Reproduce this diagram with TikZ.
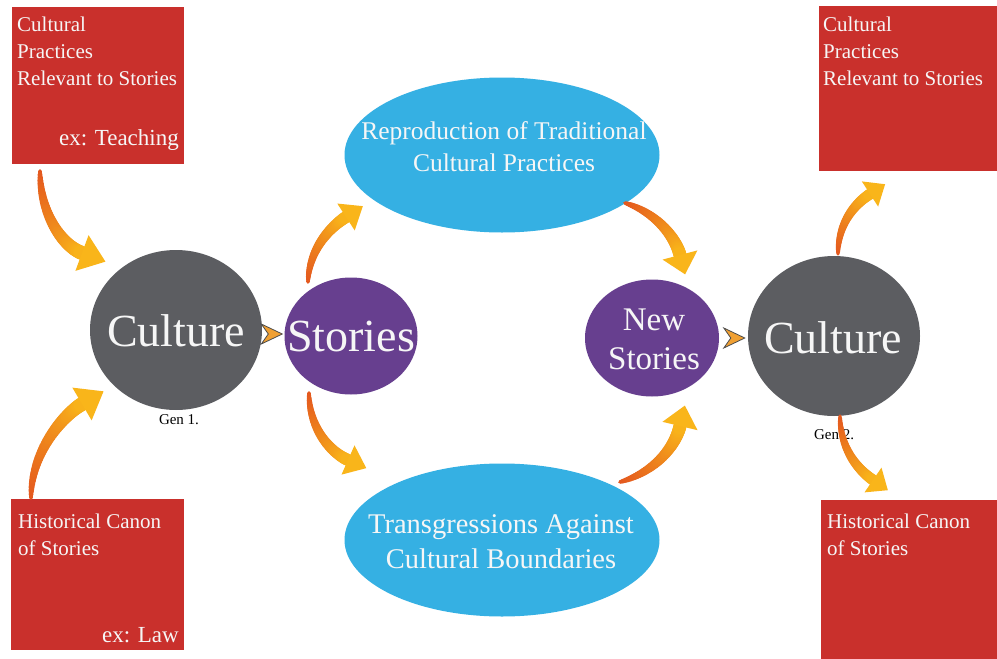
\documentclass[tikz,border=0pt]{standalone}
\usepackage{fontspec}
\setmainfont{Liberation Serif}
\usetikzlibrary{calc,shapes.geometric}
\definecolor{boxred}{HTML}{C9302C}
\definecolor{cgray}{HTML}{5C5D61}
\definecolor{spurple}{HTML}{673F8F}
\definecolor{eblue}{HTML}{35B0E3}
\definecolor{arrowR}{HTML}{E4581E}
\definecolor{arrowY}{HTML}{F9B51A}
\definecolor{chevfill}{HTML}{F0A033}
\definecolor{wtext}{HTML}{F6F6F6}
% #1 start, #2 ctrl1, #3 ctrl2, #4 head base, #5 tail width, #6 end width, #7 head half width, #8 head length
\newcommand\gradarrow[8]{%
  \foreach \gi in {0,...,39}{%
    \pgfmathsetmacro\gta{\gi/40}%
    \pgfmathsetmacro\gtb{(\gi+1)/40}%
    \pgfmathsetmacro\gwd{#5+(#6-#5)*sqrt(\gtb)}%
    \pgfmathtruncatemacro\gmx{100*\gta}%
    \begin{pgfscope}%
    \pgfsetlinewidth{\gwd pt}%
    \pgfsetroundcap
    \pgfsetstrokecolor{arrowY!\gmx!arrowR}%
    \pgfpathmoveto{\pgfpointcurveattime{\gta}{\pgfpointanchor{#1}{center}}{\pgfpointanchor{#2}{center}}{\pgfpointanchor{#3}{center}}{\pgfpointanchor{#4}{center}}}%
    \pgfpathlineto{\pgfpointcurveattime{\gtb}{\pgfpointanchor{#1}{center}}{\pgfpointanchor{#2}{center}}{\pgfpointanchor{#3}{center}}{\pgfpointanchor{#4}{center}}}%
    \pgfusepath{stroke}%
    \end{pgfscope}%
  }%
  \fill[arrowY] ($(#4)!-#8!(#3)$) -- ($(#4)!#7!90:(#3)$) -- ($(#4)!#7!-90:(#3)$) -- cycle;
}
\begin{document}
\begin{tikzpicture}[x=1pt,y=-1pt,
  redbox/.style={rectangle, fill=boxred, draw=none, inner sep=0pt, anchor=north west},
  grayc/.style={ellipse, fill=cgray, draw=none, inner sep=0pt},
  purp/.style={ellipse, fill=spurple, draw=none, inner sep=0pt},
  blueell/.style={ellipse, fill=eblue, draw=none, inner sep=0pt},
  boxtxt/.style={text=wtext, font=\fontsize{21}{27}\selectfont, align=left, inner sep=0pt, anchor=north west},
  extxt/.style={text=wtext, font=\fontsize{23}{27}\selectfont, inner sep=0pt, anchor=base east},
  bigtxt/.style={text=wtext, font=\fontsize{46}{50}\selectfont, inner sep=0pt},
  midtxt/.style={text=wtext, font=\fontsize{33}{39}\selectfont, align=center, inner sep=0pt},
  elltxt/.style={text=wtext, align=center, inner sep=0pt},
  gentxt/.style={text=black, font=\fontsize{15}{17}\selectfont, inner sep=0pt},
  chev/.style={fill=chevfill, draw=black!70, line width=0.8pt, line join=miter}
]
\useasboundingbox (0,0) rectangle (997,659);
\fill[white] (0,0) rectangle (997,659);

% red boxes
\node[redbox, minimum width=172pt, minimum height=157pt] (tl) at (12,7) {};
\node[redbox, minimum width=173pt, minimum height=151pt] (bl) at (11,499) {};
\node[redbox, minimum width=200pt, minimum height=165pt] (tr) at (819,6) {};
\node[redbox, minimum width=200pt, minimum height=170pt] (br) at (821,500) {};

\node[boxtxt] (tlt) at (17,17) {Cultural\\Practices\\Relevant to Stories};
\node[extxt] (tlex) at (179,145) {ex: Teaching};
\node[boxtxt] (blt) at (18,514) {Historical Canon\\of Stories};
\node[extxt] (blex) at (179,642) {ex: Law};
\node[boxtxt] (trt) at (823,17) {Cultural\\Practices\\Relevant to Stories};
\node[boxtxt] (brt) at (827,514) {Historical Canon\\of Stories};

% circles and ellipses
\node[grayc, minimum width=172pt, minimum height=160pt] (cl) at (176,330) {};
\node[purp, minimum width=133pt, minimum height=117pt] (st) at (351,336) {};
\node[blueell, minimum width=315pt, minimum height=155pt] (rp) at (502,155) {};
\node[blueell, minimum width=315pt, minimum height=153pt] (tg) at (502,540) {};
\node[purp, minimum width=134pt, minimum height=117pt] (ns) at (652,338) {};
\node[grayc, minimum width=172pt, minimum height=160pt] (cr) at (834,336) {};

\node[bigtxt] (clt) at (176,331) {Culture};
\node[bigtxt] (stt) at (351,336) {Stories};
\node[midtxt] (nst) at (654,339) {New\\Stories};
\node[bigtxt] (crt) at (833,338) {Culture};
\node[elltxt, font=\fontsize{25.5}{32}\selectfont] (rpt) at (504,147) {Reproduction of Traditional\\Cultural Practices};
\node[elltxt, font=\fontsize{28.5}{35}\selectfont] (tgt) at (501,542) {Transgressions Against\\Cultural Boundaries};

\node[gentxt] (g1) at (179,420) {Gen 1.};
\node[gentxt] (g2) at (834,435) {Gen 2.};

% chevrons
\filldraw[chev] ($(st.west)+(-2,-2)$) -- ++(-21,-10) -- ++(7,10) -- ++(-7,10) -- cycle;
\filldraw[chev] ($(cr.west)+(-3,2)$) -- ++(-21,-10) -- ++(7,10) -- ++(-7,10) -- cycle;

% curved arrows
\coordinate (a1s) at (40,171);  \coordinate (a1c) at (40,215);  \coordinate (a1d) at (63,246);  \coordinate (a1e) at (82,253);
\coordinate (a2s) at (31,498);  \coordinate (a2c) at (31,450);  \coordinate (a2d) at (65,414);  \coordinate (a2e) at (82,404);
\coordinate (a3s) at (308,282); \coordinate (a3c) at (309,250); \coordinate (a3d) at (329,228); \coordinate (a3e) at (346,217);
\coordinate (a4s) at (309,393); \coordinate (a4c) at (309,428); \coordinate (a4d) at (330,452); \coordinate (a4e) at (348,460);
\coordinate (a5s) at (625,203); \coordinate (a5c) at (655,212); \coordinate (a5d) at (675,236); \coordinate (a5e) at (680,255);
\coordinate (a6s) at (620,482); \coordinate (a6c) at (655,472); \coordinate (a6d) at (675,447); \coordinate (a6e) at (680,426);
\coordinate (a7s) at (838,254); \coordinate (a7c) at (838,225); \coordinate (a7d) at (853,205); \coordinate (a7e) at (870,194);
\coordinate (a8s) at (840,416); \coordinate (a8c) at (840,448); \coordinate (a8d) at (857,469); \coordinate (a8e) at (873,480);

\gradarrow{a1s}{a1c}{a1d}{a1e}{2}{14}{19pt}{25pt}
\gradarrow{a2s}{a2c}{a2d}{a2e}{2}{14}{19pt}{25pt}
\gradarrow{a3s}{a3c}{a3d}{a3e}{2}{12}{16pt}{20pt}
\gradarrow{a4s}{a4c}{a4d}{a4e}{2}{12}{16pt}{20pt}
\gradarrow{a5s}{a5c}{a5d}{a5e}{2}{13}{18pt}{20pt}
\gradarrow{a6s}{a6c}{a6d}{a6e}{2}{13}{18pt}{21pt}
\gradarrow{a7s}{a7c}{a7d}{a7e}{2}{11}{15pt}{18pt}
\gradarrow{a8s}{a8c}{a8d}{a8e}{2}{11}{15pt}{18pt}
\end{tikzpicture}
\end{document}
